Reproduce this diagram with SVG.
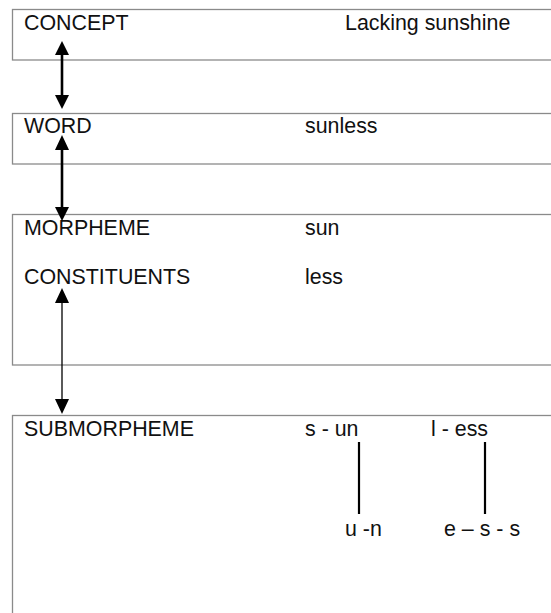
<svg xmlns="http://www.w3.org/2000/svg" width="551" height="613" viewBox="0 0 551 613">
<style>
.box{fill:#fff;stroke:#8a8a8a;stroke-width:1.3}
.t{font-family:"Liberation Sans",Arial,sans-serif;font-size:21.4px;fill:#111}
.thick{stroke:#000;stroke-width:2.6;fill:none}
.thin{stroke:#000;stroke-width:1.3;fill:none}
.tick{stroke:#000;stroke-width:2.2}
.ah{fill:#000}
</style>
<rect width="551" height="613" fill="#fff"/>
<g id="concept">
<rect class="box" x="12.5" y="9.5" width="560" height="50.5"/>
<text class="t" x="24" y="30">CONCEPT</text>
<text class="t" x="345" y="30">Lacking sunshine</text>
</g>
<g id="word">
<rect class="box" x="12.5" y="113.5" width="560" height="50.5"/>
<text class="t" x="24" y="133">WORD</text>
<text class="t" x="305" y="133">sunless</text>
</g>
<g id="morpheme">
<rect class="box" x="12.5" y="214.5" width="560" height="150.5"/>
<text class="t" x="24" y="235">MORPHEME</text>
<text class="t" x="305" y="235">sun</text>
<text class="t" x="24" y="284">CONSTITUENTS</text>
<text class="t" x="305" y="284">less</text>
</g>
<g id="submorpheme">
<rect class="box" x="12.5" y="415.5" width="560" height="220"/>
<text class="t" x="24" y="436">SUBMORPHEME</text>
<text class="t" x="305" y="436">s - un</text>
<text class="t" x="431" y="436">l - ess</text>
<line class="tick" x1="359" y1="442" x2="359" y2="514"/>
<line class="tick" x1="485" y1="442" x2="485" y2="514"/>
<text class="t" x="345" y="536">u -n</text>
<text class="t" x="444" y="536">e – s - s</text>
</g>
<g id="connectors">
<line class="thick" x1="62" y1="53" x2="62" y2="97"/>
<polygon class="ah" points="62,41 55,55 69,55"/>
<polygon class="ah" points="62,109 55,95 69,95"/>
<line class="thick" x1="62" y1="147" x2="62" y2="209"/>
<polygon class="ah" points="62,135 55,150 69,150"/>
<polygon class="ah" points="62,221 55,207 69,207"/>
<line class="thin" x1="62" y1="300" x2="62" y2="402"/>
<polygon class="ah" points="62,288 55,303 69,303"/>
<polygon class="ah" points="62,414 55,399 69,399"/>
</g>
</svg>
